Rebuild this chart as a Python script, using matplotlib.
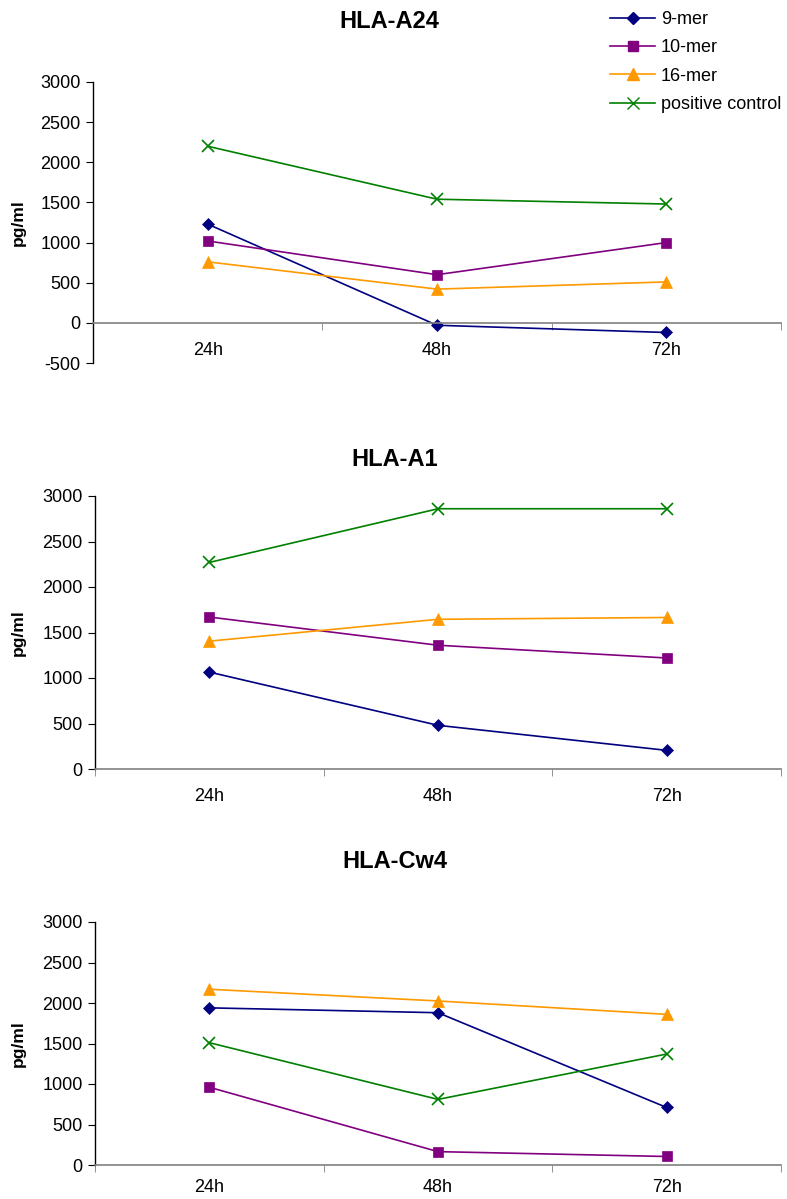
import matplotlib
matplotlib.use("Agg")
import matplotlib.pyplot as plt
from matplotlib.lines import Line2D

plt.rcParams['font.family'] = ['Liberation Sans', 'DejaVu Sans']

categories = ["24h", "48h", "72h"]
series_names = ["9-mer", "10-mer", "16-mer", "positive control"]

a24_9mer = [1230, -30, -120]
a24_10mer = [1020, 600, 1000]
a24_16mer = [760, 420, 510]
a24_pc = [2200, 1540, 1480]

a1_9mer = [1065, 480, 205]
a1_10mer = [1670, 1360, 1220]
a1_16mer = [1405, 1645, 1665]
a1_pc = [2270, 2860, 2860]

cw4_9mer = [1940, 1880, 710]
cw4_10mer = [960, 165, 105]
cw4_16mer = [2170, 2025, 1860]
cw4_pc = [1510, 810, 1370]

titles = ["HLA-A24", "HLA-A1", "HLA-Cw4"]
yticks_list = [[-500, 0, 500, 1000, 1500, 2000, 2500, 3000],
               [0, 500, 1000, 1500, 2000, 2500, 3000],
               [0, 500, 1000, 1500, 2000, 2500, 3000]]

colors = ["#000080", "#800080", "#FF9900", "#008000"]
markers = ["D", "s", "^", "x"]
msizes = [6, 7, 8, 8]

W, H = 787, 1199
fig = plt.figure(figsize=(W / 100, H / 100), dpi=100)

rects = [(93, 82, 781, 363), (95, 496, 781, 769), (95, 922, 781, 1165)]
data = [
    [a24_9mer, a24_10mer, a24_16mer, a24_pc],
    [a1_9mer, a1_10mer, a1_16mer, a1_pc],
    [cw4_9mer, cw4_10mer, cw4_16mer, cw4_pc],
]
title_y = [22, 460, 862]
title_x = [389, 395, 395]
xpads = [14, 14, 10]

x = list(range(len(categories)))
for i, (l, t, r, b) in enumerate(rects):
    ax = fig.add_axes([l / W, 1 - b / H, (r - l) / W, (b - t) / H])
    for sp in ['top', 'right']:
        ax.spines[sp].set_visible(False)
    ax.spines['bottom'].set_position(('data', 0))
    ax.spines['bottom'].set_color('#808080')
    ax.spines['bottom'].set_linewidth(1.2)
    ax.spines['left'].set_linewidth(1.0)
    for s, vals in enumerate(data[i]):
        ax.plot(x, vals, color=colors[s], marker=markers[s], markersize=msizes[s],
                linewidth=1.2, markeredgewidth=1.2 if markers[s] == "x" else 0.5,
                markeredgecolor=colors[s], clip_on=False)
    yt = yticks_list[i]
    ax.set_ylim(yt[0], yt[-1])
    ax.set_yticks(yt)
    ax.set_yticklabels([str(v) for v in yt])
    ax.set_xlim(-0.5, 2.5)
    ax.set_xticks(x)
    ax.set_xticklabels(categories)
    ax.set_xticks([-0.5, 0.5, 1.5, 2.5], minor=True)
    ax.tick_params(axis='x', which='major', length=0, pad=xpads[i], labelsize=13)
    ax.tick_params(axis='x', which='minor', length=5, color='#808080', direction='out')
    ax.tick_params(axis='y', length=5, direction='out', pad=4, labelsize=13)
    ax.set_ylabel("pg/ml", fontsize=12.5, fontweight='bold')
    ax.yaxis.set_label_coords(-(l - 26) / (r - l), 0.5)
    fig.text(title_x[i] / W, 1 - title_y[i] / H, titles[i],
             fontsize=17, fontweight='bold', ha='center', va='center')

handles = [Line2D([0], [0], color=colors[s], marker=markers[s], markersize=msizes[s],
                  linewidth=1.2, markeredgecolor=colors[s]) for s in range(4)]
fig.legend(handles, series_names, loc='upper left', bbox_to_anchor=(594 / W, 1 + 5 / H),
           frameon=False, fontsize=13, handlelength=2.5, labelspacing=0.62,
           handletextpad=0.3, borderaxespad=0.5)

fig.savefig("out.png", dpi=100)
